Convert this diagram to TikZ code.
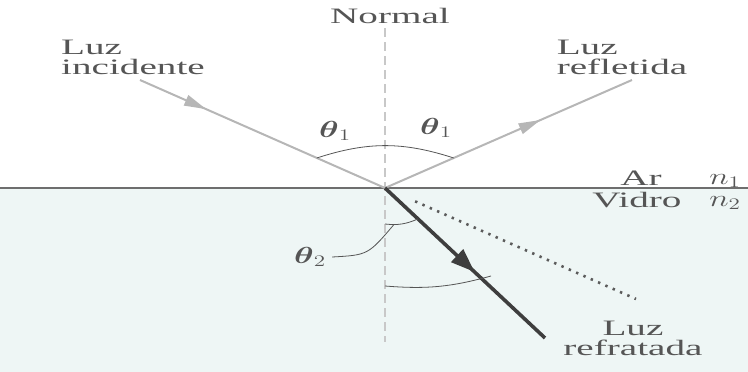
\documentclass[tikz,border=0pt]{standalone}
\usepackage{fontspec}
\setmainfont{Liberation Serif}
\usepackage{amsmath}
\usepackage{graphicx}
\usetikzlibrary{calc,arrows.meta,decorations.markings}

\definecolor{glass}{HTML}{EEF6F5}
\definecolor{ink}{HTML}{555555}
\definecolor{lightray}{HTML}{B6B6B6}
\definecolor{darkray}{HTML}{3E3E3E}
\definecolor{normalgray}{HTML}{C8C8C8}

% stretched lettering of the scanned figure
\newcommand{\wide}[1]{\scalebox{1.78}[1]{#1}}
\newcommand{\widem}[1]{\scalebox{1.6}[1.12]{#1}}

\tikzset{
  lbl/.style={text=ink, font=\fontsize{22}{20}\selectfont, inner sep=0pt},
  ray/.style={lightray, line width=2pt},
  refracted/.style={darkray, line width=3.6pt},
  arcline/.style={ink, line width=0.8pt},
  arrowat/.style 2 args={postaction={decorate},
    decoration={markings, mark=at position #1 with {\arrow{#2}}}},
}

\begin{document}
\begin{tikzpicture}[x=1pt, y=-1pt]
  \useasboundingbox (0,0) rectangle (748,372);
  % glass below the surface
  \fill[glass] (0,188) rectangle (748,372);

  % points of the geometry
  \coordinate (O) at (385,188);
  \coordinate (inc) at (140,80);
  \coordinate (refl) at (632,80);
  \coordinate (refr) at (545,338);
  \coordinate (ext) at (636,299);
  \coordinate (ntop) at (385,28);
  \coordinate (nbot) at (385,342);
  \coordinate (left) at (0,188);
  \coordinate (right) at (748,188);

  % surface and normal
  \draw[line width=1.5pt, ink!85] (left) -- (right);
  \draw[normalgray, line width=1.5pt, dash pattern=on 9pt off 5pt] (ntop) -- (nbot);

  % rays
  \draw[ray, arrowat={0.27}{Triangle[length=22pt, width=11pt]}] (inc) -- (O);
  \draw[ray, arrowat={0.63}{Triangle[length=22pt, width=11pt]}] (O) -- (refl);
  \draw[darkray!85, line width=2.6pt, dash pattern=on 2.4pt off 5.6pt] ($(O)!0.12!(ext)$) -- (ext);
  \draw[refracted, arrowat={0.56}{Triangle[length=24pt, width=17pt]}] (O) -- (refr);

  % angle marks
  \draw[arcline] ($(O)!0.278!(inc)$) to[bend left=18] ($(O)!0.278!(refl)$);
  \draw[arcline] (385,224) to[bend right=15] coordinate[pos=0.25] (t2) ($(O)!0.206!(refr)$);
  \draw[arcline] (385,286) to[bend right=10] (491,276);

  % labels
  \node[lbl] (normal) at (390,16) {\wide{Normal}};
  \node[lbl, align=left] (incid) at (133,57) {\wide{Luz}\\\wide{incidente}};
  \node[lbl, align=left] (reflt) at (622,57) {\wide{Luz}\\\wide{refletida}};
  \node[lbl, align=center] (refrt) at (633,338) {\wide{Luz}\\\wide{refratada}};
  \node[lbl] (th1a) at (335,131) {\widem{$\boldsymbol{\theta}_1$}};
  \node[lbl] (th1b) at (436,128) {\widem{$\boldsymbol{\theta}_1$}};
  \node[lbl] (th2) at (310,257) {\widem{$\boldsymbol{\theta}_2$}};
  \node[lbl] (ar) at (641,178) {\wide{Ar}};
  \node[lbl] (n1) at (725,181) {\widem{$n_1$}};
  \node[lbl] (vidro) at (637,200) {\wide{Vidro}};
  \node[lbl] (n2) at (725,203) {\widem{$n_2$}};

  % pointer to the small arc
  \draw[arcline] ([xshift=6pt]th2.east) .. controls (368,255) .. (t2);
\end{tikzpicture}
\end{document}
